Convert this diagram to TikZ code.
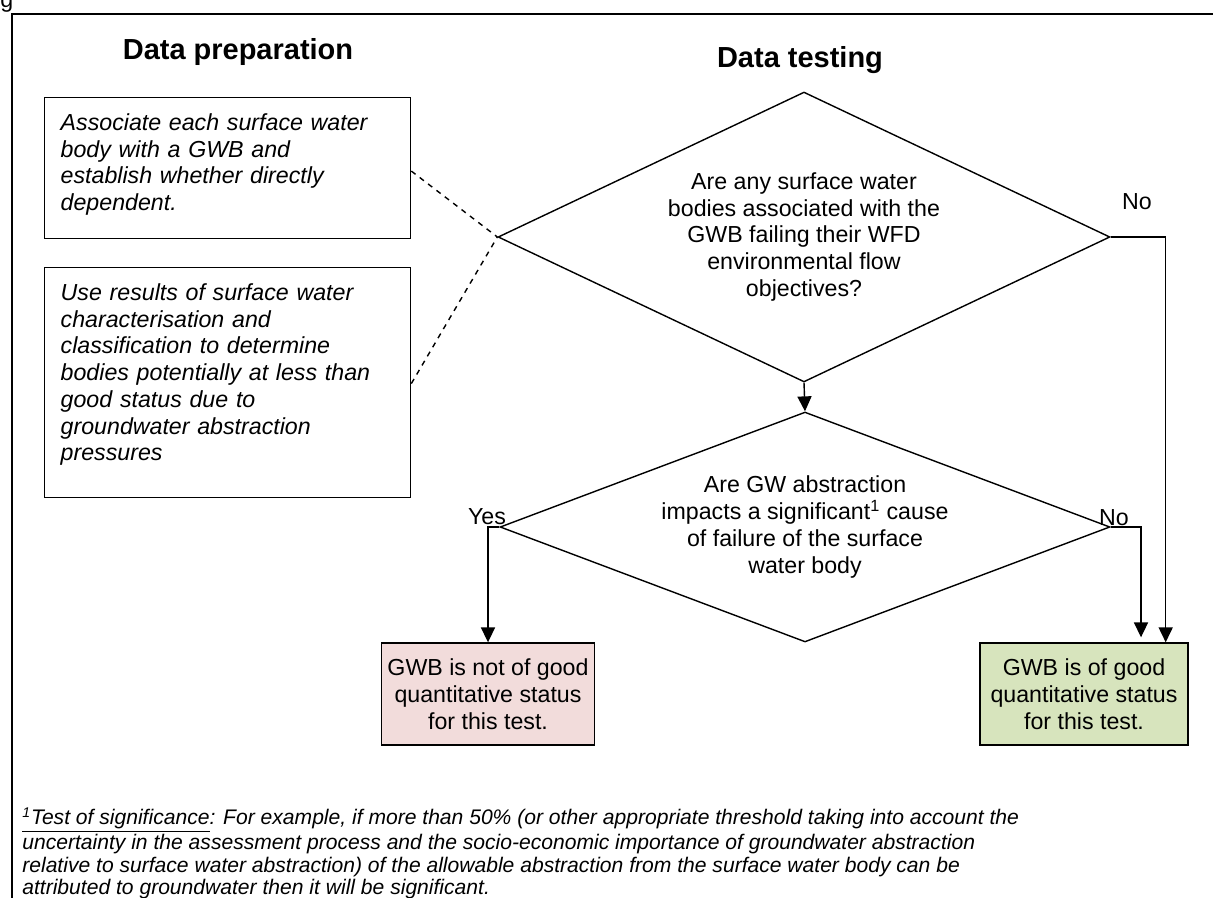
\documentclass[tikz,border=0pt]{standalone}
\usepackage{fontspec}
\setmainfont{Liberation Sans}
\usepackage{tikz}
\usetikzlibrary{shapes.geometric, arrows.meta, positioning, calc}
\tikzset{
    prep/.style={rectangle, draw, thick, text width=6.68cm, align=left, font=\fontsize{13.2}{15.2}\selectfont\itshape, inner xsep=0.32cm, inner ysep=0.32cm, anchor=north west},
    decision/.style={diamond, draw, thick, inner sep=0pt, align=center},
    result/.style={rectangle, draw, thick, minimum height=2.04cm, align=center},
    arrow/.style={-{Triangle[length=8.5pt, width=8pt]}, thick},
    link/.style={dashed, thick},
    heading/.style={font=\fontsize{16.5}{19}\selectfont\bfseries}
}
\definecolor{failred}{RGB}{242,220,219}
\definecolor{passgreen}{RGB}{215,228,189}

\begin{document}
\begin{tikzpicture}[x=0.02cm, y=-0.02cm, font=\fontsize{13.2}{15.2}\selectfont]
    \useasboundingbox (0,0) rectangle (1213,898);
    \node[anchor=base west, inner sep=0pt] (g) at (0,8) {g};
    \draw[line width=1.1pt] (12,910) -- (12,14) -- (1225,14);

    % headings
    \node[heading] (prephead) at (238,52) {Data preparation};
    \node[heading] (testhead) at (800,60) {Data testing};

    % data preparation boxes
    \node[prep, text depth=1.84cm] (assoc) at (44,97)
        {Associate each surface water\\ body with a GWB and\\ establish whether directly\\ dependent.};
    \node[prep, text depth=3.62cm] (results) at (44,267)
        {Use results of surface water\\ characterisation and\\ classification to determine\\ bodies potentially at less than\\ good status due to\\ groundwater abstraction\\ pressures};

    % data testing
    \node[decision, minimum width=12.24cm, minimum height=5.8cm, aspect=2.1] (failing) at (804,237)
        {Are any surface water\\ bodies associated with the\\ GWB failing their WFD\\ environmental flow\\ objectives?};
    \node[decision, minimum width=12.2cm, minimum height=4.6cm, aspect=2.65] (impacts) at (805,527)
        {Are GW abstraction\\ impacts a significant\textsuperscript{1} cause\\ of failure of the surface\\ water body};
    \node[result, fill=failred, minimum width=3.92cm] (notgood) at (488,694)
        {GWB is not of good\\ quantitative status\\ for this test.};
    \node[result, fill=passgreen, minimum width=4.16cm] (good) at (1084,694)
        {GWB is of good\\ quantitative status\\ for this test.};

    \draw[link] ($(assoc.east)+(0,3)$) -- (failing.west);
    \draw[link] ($(results.east)+(0,1)$) -- (failing.west);

    \draw[arrow] (failing.south) -- (impacts.north);
    \draw[arrow] (failing.east) -| ($(good.north east)+(-23,0)$);
    \draw[arrow] (impacts.east) -| ($(good.north)+(57,-5)$);
    \draw[arrow] (impacts.west) -| (notgood.north);

    \node (noup) at (1137,202) {No};
    \node (nodown) at (1114,518) {No};
    \node (yes) at (487,517) {Yes};

    % footnote
    \node[anchor=north west, align=left, inner sep=0pt, font=\fontsize{12}{12.9}\selectfont\itshape] (note) at (22,807)
        {\underline{\textsuperscript{1}Test of significance}: For example, if more than 50\% (or other appropriate threshold taking into account the\\
        uncertainty in the assessment process and the socio-economic importance of groundwater abstraction\\
        relative to surface water abstraction) of the allowable abstraction from the surface water body can be\\
        attributed to groundwater then it will be significant.};
\end{tikzpicture}
\end{document}
